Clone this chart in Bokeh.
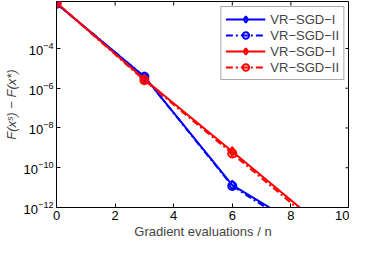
import math
from bokeh.plotting import figure
from bokeh.models import Range1d, FixedTicker, Legend, LegendItem
from bokeh.embed import file_html
from bokeh.resources import INLINE

# ---- data ----
x_evals = [0, 3, 6, 9]
blue_I = [1.8e-2, 3.8e-6, 1.35e-11, 2.9e-14]
blue_II = [1.8e-2, 3.8e-6, 1.2e-11, 1.8e-14]
red_I = [2.0e-2, 2.8e-6, 6.6e-10, 1.4e-13]
red_II = [2.0e-2, 2.5e-6, 5.2e-10, 1.0e-13]
labels = ["VR\u2212SGD\u2212I", "VR\u2212SGD\u2212II", "VR\u2212SGD\u2212I", "VR\u2212SGD\u2212II"]
x_ticks = [0, 2, 4, 6, 8, 10]
y_ticks = [1e-12, 1e-10, 1e-8, 1e-6, 1e-4]
x_lim = (0, 10)
y_lim = (1e-12, 2.3e-2)

FONT = "Liberation Sans"

p = figure(width=349, height=241, y_axis_type="log",
           x_range=Range1d(*x_lim), y_range=Range1d(*y_lim),
           output_backend="svg", toolbar_location=None,
           min_border_left=0, min_border_right=0, min_border_top=1, min_border_bottom=0)
p.outline_line_color = "black"
p.outline_line_width = 1
p.grid.visible = False
p.border_fill_color = "white"
p.background_fill_color = "white"

series = [
    (blue_I, "blue", "solid", "diamond"),
    (blue_II, "blue", "7 3 2 3", "circle"),
    (red_I, "red", "solid", "diamond"),
    (red_II, "red", "7 3 2 3", "circle"),
]
items = []
for (ys, col, dash, mk), lab in zip(series, labels):
    l = p.line(x_evals, ys, line_color=col, line_width=2, line_dash=dash)
    s = p.scatter(x_evals, ys, marker=mk, size=9 if mk == "diamond" else 8,
                  line_color=col, line_width=2, fill_alpha=0)
    items.append(LegendItem(label=lab, renderers=[l, s]))

# inward ticks on the top and right frame edges (mirroring the axis ticks)
p.scatter(x_ticks, [y_lim[1]] * len(x_ticks), marker="dash", size=8, angle=math.pi / 2,
          line_color="black", line_width=1)
p.scatter([x_lim[1]] * len(y_ticks), y_ticks, marker="dash", size=8,
          line_color="black", line_width=1)

def style_axis(ax):
    ax.axis_line_color = "black"
    ax.major_tick_line_color = "black"
    ax.major_tick_in = 4
    ax.major_tick_out = 0
    ax.minor_tick_line_color = None
    ax.major_label_text_font = FONT
    ax.major_label_text_color = "black"
    ax.major_label_text_font_size = "13px"
    ax.major_label_standoff = 3
    ax.axis_label_text_font = FONT
    ax.axis_label_text_font_size = "13px"
    ax.axis_label_text_font_style = "normal"

xa = p.xaxis[0]
xa.ticker = FixedTicker(ticks=x_ticks)
xa.axis_label = "Gradient evaluations / n"
style_axis(xa)
xa.axis_label_standoff = 1

ya = p.yaxis[0]
ya.ticker = FixedTicker(ticks=y_ticks)
ya.axis_label = "F(x\u02e2) \u2212 F(x*)"
style_axis(ya)
ya.axis_label_standoff = 2
ya.axis_label_text_font_style = "italic"

leg = Legend(items=items, location="top_right", margin=5, padding=4, spacing=0,
             glyph_width=40, glyph_height=16, label_height=16, label_standoff=5,
             label_text_font=FONT, label_text_font_size="13px",
             border_line_color="#555555", border_line_width=1,
             background_fill_color="white", background_fill_alpha=1)
p.add_layout(leg, "center")

open("out.html", "w").write(file_html(p, INLINE))
